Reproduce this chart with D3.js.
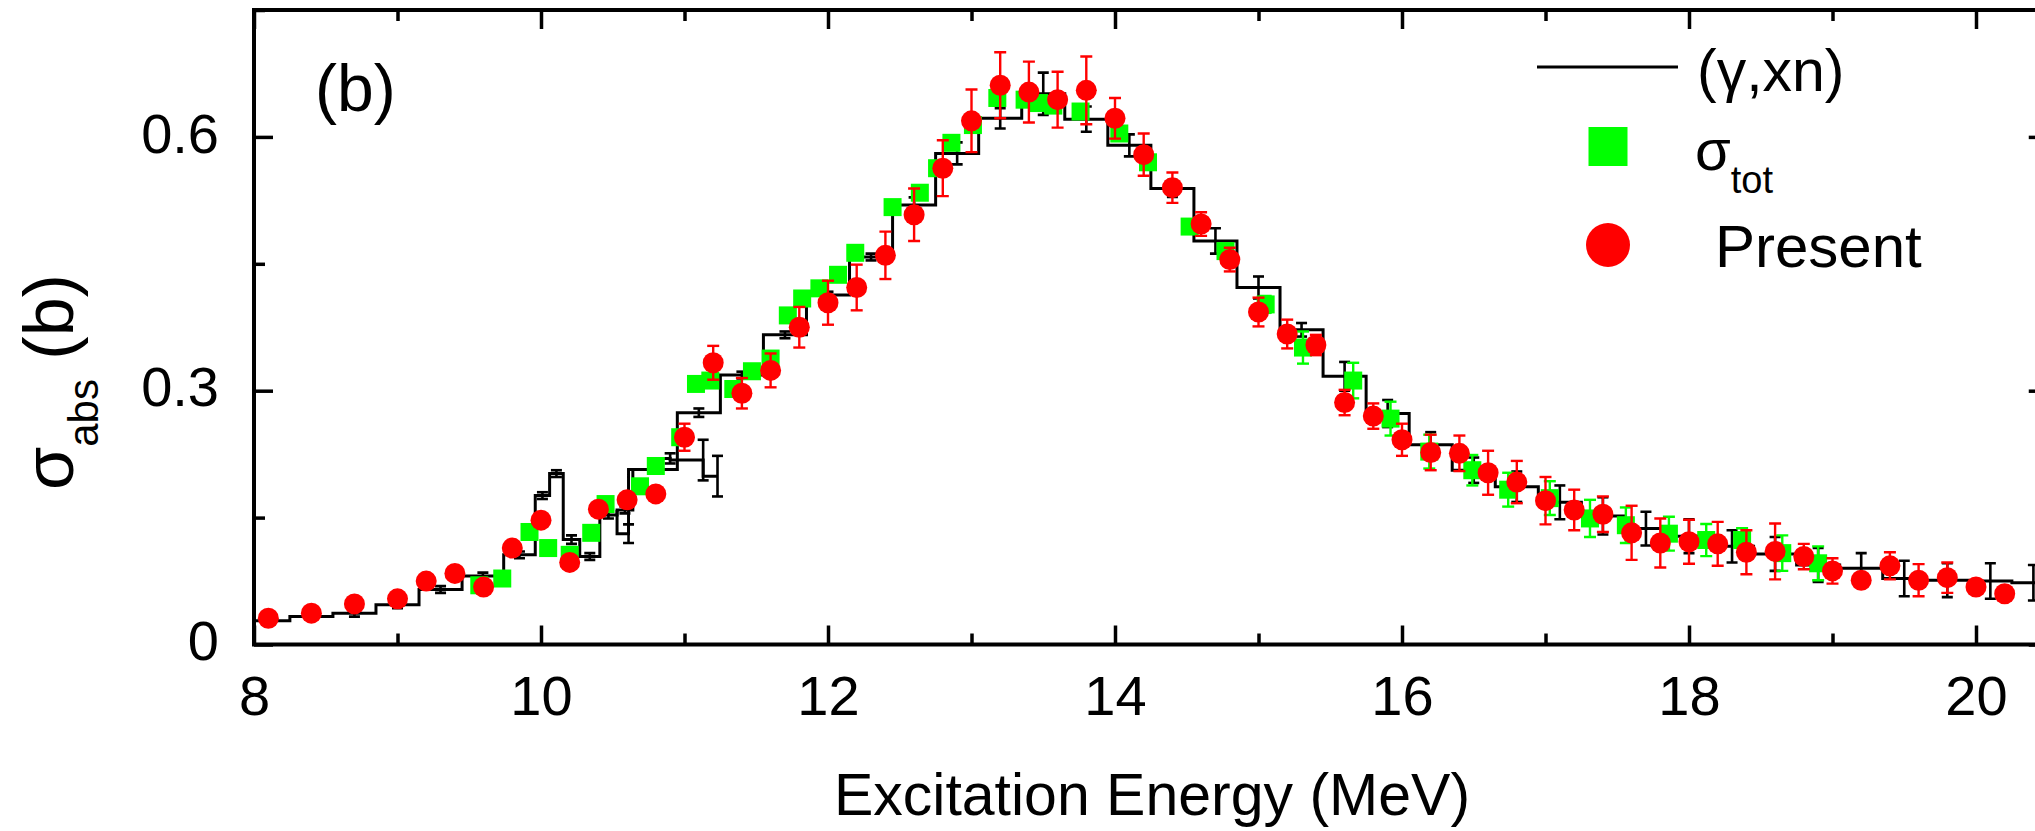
<!DOCTYPE html>
<html><head><meta charset="utf-8">
<script src="https://cdn.jsdelivr.net/npm/d3@7"></script>
<style>body{margin:0;background:#fff;} svg{display:block;}</style>
</head><body>
<svg id="chart" width="2035" height="831"></svg>
<script>
// ---------------- data ----------------
const xMajorTicks = [8, 10, 12, 14, 16, 18, 20];
const xMinorTicks = [9, 11, 13, 15, 17, 19];
const yMajorTicks = [0, 0.3, 0.6];
const yTickLabels = ["0", "0.3", "0.6"];
const yMinorTicks = [0.15, 0.45, 0.75];

// (γ,xn) histogram: bin edges, values and errors
const xnEdges = [7.95, 8.25, 8.55, 8.85, 9.15, 9.45, 9.74, 9.96, 10.06, 10.155, 10.27, 10.41, 10.53, 10.64, 10.95,
  11.25, 11.55, 11.85, 12.15, 12.45, 12.75, 13.05, 13.35, 13.65, 13.95, 14.25, 14.55, 14.85, 15.15, 15.45, 15.75,
  16.05, 16.35, 16.65, 16.95, 17.25, 17.55, 17.85, 18.15, 18.45, 18.75, 19.05, 19.35, 19.65, 19.95, 20.25, 20.55];
const xnSigma = [0.028, 0.033, 0.037, 0.047, 0.065, 0.081, 0.106, 0.176, 0.202, 0.124, 0.104, 0.153, 0.159, 0.207,
  0.274, 0.3185, 0.366, 0.413, 0.458, 0.5195, 0.5805, 0.622, 0.651, 0.621, 0.590, 0.539, 0.477, 0.422, 0.372, 0.317,
  0.273, 0.236, 0.206, 0.1865, 0.168, 0.152, 0.137, 0.128, 0.116, 0.107, 0.094, 0.090, 0.078, 0.076, 0.075, 0.073];
const xnErr = [0.004, 0.004, 0.004, 0.004, 0.004, 0.004, 0.004, 0.004, 0.004, 0.005, 0.004, 0.004, 0.004, 0.005,
  0.005, 0.004, 0.004, 0.004, 0.004, 0.009, 0.013, 0.012, 0.025, 0.015, 0.013, 0.010, 0.015, 0.013, 0.008, 0.017,
  0.016, 0.015, 0.015, 0.018, 0.020, 0.022, 0.020, 0.020, 0.019, 0.020, 0.020, 0.018, 0.021, 0.020, 0.021, 0.021];

// second short (γ,xn) piece
const xn2Energy = [10.53, 10.61, 10.78, 10.90, 11.13, 11.23];
const xn2Sigma  = [0.159, 0.131, 0.207, 0.220, 0.218, 0.199];
const xn2Err    = [0, 0.011, 0, 0.006, 0.024, 0.024];

// σ_tot (green squares)
const totEnergy = [9.57, 9.73, 9.92, 10.05, 10.20, 10.35, 10.45, 10.69, 10.80, 10.97, 11.08, 11.18, 11.34, 11.47,
  11.60, 11.72, 11.82, 11.94, 12.07, 12.19, 12.45, 12.64, 12.76, 12.86, 13.01, 13.18, 13.37, 13.47, 13.57, 13.76,
  14.03, 14.23, 14.52, 14.77, 15.05, 15.31, 15.66, 15.92, 16.19, 16.49, 16.74, 17.03, 17.31, 17.56, 17.86, 18.12,
  18.37, 18.65, 18.90];
const totSigma = [0.070, 0.078, 0.133, 0.114, 0.106, 0.132, 0.166, 0.187, 0.211, 0.245, 0.308, 0.312, 0.302, 0.323,
  0.338, 0.389, 0.409, 0.421, 0.437, 0.463, 0.517, 0.534, 0.563, 0.593, 0.614, 0.646, 0.644, 0.640, 0.637, 0.630,
  0.604, 0.570, 0.494, 0.465, 0.402, 0.351, 0.312, 0.267, 0.228, 0.206, 0.183, 0.173, 0.149, 0.141, 0.131, 0.1235,
  0.1235, 0.108, 0.096];
const totErr = [0.005, 0.005, 0.005, 0.005, 0.005, 0.005, 0.005, 0.005, 0.005, 0.005, 0.005, 0.005, 0.005, 0.005,
  0.005, 0.005, 0.005, 0.005, 0.005, 0.005, 0.005, 0.005, 0.005, 0.005, 0.005, 0.005, 0.005, 0.005, 0.005, 0.005,
  0.005, 0.005, 0.005, 0.005, 0.010, 0.019, 0.021, 0.020, 0.020, 0.018, 0.020, 0.020, 0.022, 0.021, 0.020, 0.019,
  0.014, 0.021, 0.020];

// Present (red circles)
const presEnergy = [8.1, 8.4, 8.7, 9.0, 9.2, 9.4, 9.6, 9.8, 10.0, 10.2, 10.4, 10.6, 10.8, 11.0, 11.2, 11.4, 11.6,
  11.8, 12.0, 12.2, 12.4, 12.6, 12.8, 13.0, 13.2, 13.4, 13.6, 13.8, 14.0, 14.2, 14.4, 14.6, 14.8, 15.0, 15.2, 15.4,
  15.6, 15.8, 16.0, 16.2, 16.4, 16.6, 16.8, 17.0, 17.2, 17.4, 17.6, 17.8, 18.0, 18.2, 18.4, 18.6, 18.8, 19.0, 19.2,
  19.4, 19.6, 19.8, 20.0, 20.2];
const presSigma = [0.031, 0.037, 0.048, 0.054, 0.075, 0.084, 0.068, 0.114, 0.147, 0.097, 0.160, 0.171, 0.178, 0.245,
  0.333, 0.297, 0.324, 0.375, 0.404, 0.422, 0.460, 0.508, 0.563, 0.619, 0.661, 0.653, 0.644, 0.655, 0.622, 0.579,
  0.540, 0.497, 0.455, 0.393, 0.367, 0.354, 0.286, 0.270, 0.242, 0.227, 0.226, 0.203, 0.192, 0.170, 0.159, 0.154,
  0.132, 0.120, 0.1215, 0.119, 0.109, 0.110, 0.104, 0.087, 0.076, 0.093, 0.076, 0.079, 0.068, 0.060];
const presErr = [0.006, 0.006, 0.006, 0.006, 0.006, 0.006, 0.006, 0.006, 0.006, 0.006, 0.006, 0.006, 0.006, 0.016,
  0.020, 0.018, 0.020, 0.024, 0.026, 0.027, 0.028, 0.031, 0.033, 0.037, 0.039, 0.036, 0.033, 0.040, 0.024, 0.025,
  0.018, 0.014, 0.014, 0.017, 0.017, 0.012, 0.015, 0.015, 0.019, 0.021, 0.021, 0.026, 0.025, 0.028, 0.024, 0.021,
  0.032, 0.029, 0.026, 0.026, 0.026, 0.033, 0.015, 0.015, 0.006, 0.016, 0.019, 0.018, 0.006, 0.006];

// ---------------- drawing ----------------
const FONT = "'Liberation Sans', Arial, Helvetica, sans-serif";
const RED = "#ff0000", GREEN = "#00ff00";
const svg = d3.select("#chart");
svg.append("rect").attr("width", 2035).attr("height", 831).attr("fill", "#fff");

const x = d3.scaleLinear().domain([8, 20.5]).range([254, 2047.75]);
const y = d3.scaleLinear().domain([0, 0.75]).range([644.5, 10]);
const [X0, X1] = x.range(), [Y0, Y1] = y.range();

svg.append("defs").append("clipPath").attr("id", "plotclip")
  .append("rect").attr("x", X0).attr("y", Y1).attr("width", X1 - X0).attr("height", Y0 - Y1);

const plot = svg.append("g").attr("clip-path", "url(#plotclip)");

function errorBars(g, xs, ys, es, color, cap, sw) {
  const idx = d3.range(xs.length).filter(i => es[i] > 0);
  const eg = g.append("g").attr("stroke", color).attr("stroke-width", sw).attr("fill", "none");
  idx.forEach(i => {
    const cx = x(xs[i]), yt = y(ys[i] + es[i]), yb = y(ys[i] - es[i]);
    eg.append("line").attr("x1", cx).attr("x2", cx).attr("y1", yt).attr("y2", yb);
    eg.append("line").attr("x1", cx - cap / 2).attr("x2", cx + cap / 2).attr("y1", yt).attr("y2", yt);
    eg.append("line").attr("x1", cx - cap / 2).attr("x2", cx + cap / 2).attr("y1", yb).attr("y2", yb);
  });
}

// (γ,xn) main histogram
const stepPts = [];
xnSigma.forEach((s, i) => { stepPts.push([xnEdges[i], s]); stepPts.push([xnEdges[i + 1], s]); });
const line = d3.line().x(d => x(d[0])).y(d => y(d[1]));
plot.append("path").attr("d", line(stepPts)).attr("fill", "none").attr("stroke", "#000")
  .attr("stroke-width", 3).attr("stroke-linejoin", "miter");
const xnCenters = xnSigma.map((s, i) => (xnEdges[i] + xnEdges[i + 1]) / 2);
errorBars(plot, xnCenters, xnSigma, xnErr, "#000", 11, 2.6);

// second piece
const pts2 = xn2Energy.map((e, i) => [e, xn2Sigma[i]]);
plot.append("path").attr("d", d3.line().x(d => x(d[0])).y(d => y(d[1])).curve(d3.curveStepBefore)(pts2))
  .attr("fill", "none").attr("stroke", "#000").attr("stroke-width", 3);
errorBars(plot, xn2Energy, xn2Sigma, xn2Err, "#000", 11, 2.6);

// σ_tot
errorBars(plot, totEnergy, totSigma, totErr, GREEN, 12, 2.4);
const SQ = 18;
plot.append("g").selectAll("rect").data(totEnergy).join("rect")
  .attr("x", (d, i) => x(d) - SQ / 2).attr("y", (d, i) => y(totSigma[i]) - SQ / 2)
  .attr("width", SQ).attr("height", SQ).attr("fill", GREEN);

// Present
errorBars(plot, presEnergy, presSigma, presErr, RED, 12, 2.4);
plot.append("g").selectAll("circle").data(presEnergy).join("circle")
  .attr("cx", d => x(d)).attr("cy", (d, i) => y(presSigma[i])).attr("r", 10.5).attr("fill", RED);

// ---------------- axes ----------------
function styleAxis(g) {
  g.select(".domain").remove();
  g.selectAll(".tick line").attr("stroke", "#000").attr("stroke-width", 3.5);
  g.selectAll(".tick text").attr("fill", "#000").style("font-family", FONT).style("font-size", "56px");
}
const MAJ = 19, MIN = 11;
svg.append("g").attr("transform", `translate(0,${Y0})`)
  .call(d3.axisBottom(x).tickValues(xMajorTicks).tickSizeInner(-MAJ).tickSizeOuter(0).tickPadding(31).tickFormat(d3.format("d")))
  .call(styleAxis);
svg.append("g").attr("transform", `translate(0,${Y0})`)
  .call(d3.axisBottom(x).tickValues(xMinorTicks).tickSizeInner(-MIN).tickSizeOuter(0).tickFormat(""))
  .call(styleAxis);
svg.append("g").attr("transform", `translate(0,${Y1})`)
  .call(d3.axisTop(x).tickValues(xMajorTicks).tickSizeInner(-MAJ).tickSizeOuter(0).tickFormat(""))
  .call(styleAxis);
svg.append("g").attr("transform", `translate(0,${Y1})`)
  .call(d3.axisTop(x).tickValues(xMinorTicks).tickSizeInner(-MIN).tickSizeOuter(0).tickFormat(""))
  .call(styleAxis);
const leftAx = svg.append("g").attr("transform", `translate(${X0},0)`)
  .call(d3.axisLeft(y).tickValues(yMajorTicks).tickSizeInner(-MAJ).tickSizeOuter(0).tickPadding(35)
    .tickFormat((d, i) => yTickLabels[i]))
  .call(styleAxis);
leftAx.selectAll(".tick text").attr("dy", "0.27em");
svg.append("g").attr("transform", `translate(${X0},0)`)
  .call(d3.axisLeft(y).tickValues(yMinorTicks).tickSizeInner(-MIN).tickSizeOuter(0).tickFormat(""))
  .call(styleAxis);
svg.append("g").attr("transform", `translate(${X1},0)`)
  .call(d3.axisRight(y).tickValues(yMajorTicks).tickSizeInner(-MAJ).tickSizeOuter(0).tickFormat(""))
  .call(styleAxis);
svg.append("g").attr("transform", `translate(${X1},0)`)
  .call(d3.axisRight(y).tickValues(yMinorTicks).tickSizeInner(-MIN).tickSizeOuter(0).tickFormat(""))
  .call(styleAxis);

// frame
svg.append("rect").attr("x", X0).attr("y", Y1).attr("width", X1 - X0).attr("height", Y0 - Y1)
  .attr("fill", "none").attr("stroke", "#000").attr("stroke-width", 4);

// ---------------- texts ----------------
svg.append("text").attr("x", 1152).attr("y", 815).attr("text-anchor", "middle")
  .style("font-family", FONT).style("font-size", "59px").text("Excitation Energy (MeV)");

const yt = svg.append("text").attr("transform", "translate(73,490) rotate(-90)")
  .style("font-family", FONT).style("font-size", "70px");
yt.append("tspan").text("σ");
yt.append("tspan").attr("dy", 25).style("font-size", "42px").text("abs");
yt.append("tspan").attr("dy", -25).text(" (b)");

svg.append("text").attr("x", 315).attr("y", 111).style("font-family", FONT).style("font-size", "66px").text("(b)");

// legend
const lg = svg.append("g").style("font-family", FONT);
lg.append("line").attr("x1", 1537).attr("x2", 1678).attr("y1", 67).attr("y2", 67)
  .attr("stroke", "#000").attr("stroke-width", 3);
lg.append("text").attr("x", 1697).attr("y", 91).style("font-size", "59px").text("(γ,xn)");
lg.append("rect").attr("x", 1608 - 19.5).attr("y", 146.5 - 19.5).attr("width", 39).attr("height", 39).attr("fill", GREEN);
const st = lg.append("text").attr("x", 1695).attr("y", 170).style("font-size", "58px");
st.append("tspan").text("σ");
st.append("tspan").attr("dy", 23).style("font-size", "38px").text("tot");
lg.append("circle").attr("cx", 1608).attr("cy", 245).attr("r", 22).attr("fill", RED);
lg.append("text").attr("x", 1715).attr("y", 267).style("font-size", "60px").text("Present");
</script>
</body></html>
